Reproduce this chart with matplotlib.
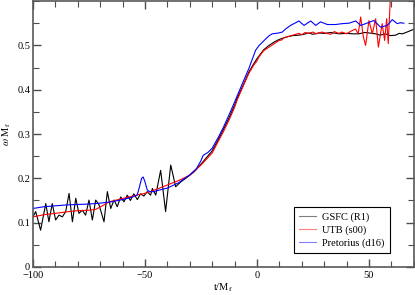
import matplotlib
matplotlib.use("Agg")
import matplotlib.pyplot as plt
from matplotlib.ticker import MultipleLocator

plt.rcParams["font.family"] = ["Liberation Serif", "DejaVu Serif"]
plt.rcParams["mathtext.fontset"] = "stix"

# GSFC (R1)
gsfc_t = [-100, -98.8, -96.6, -94.3, -92.9, -91.4, -89.9, -88.4, -86.9, -85.4,
          -83.9, -82.4, -80.9, -79.5, -78, -76.5, -75, -73.5, -72, -70.5,
          -68.3, -66.8, -65.3, -63.8, -62.4, -60.8, -59.4, -57.9, -56.5, -55,
          -53.4, -52, -50.5, -49, -47.5, -46.7, -45.2, -43, -40.8, -38.5,
          -36.3, -34, -31.8, -30, -28, -25, -22, -20, -17, -15,
          -12.5, -10, -8.9, -6, -3.6, -1.5, 0, 1.5, 3, 5.4,
          7.5, 9.8, 12, 14, 16, 18.75, 21, 23, 25, 27.7,
          30, 33, 36.6, 40, 43, 45.5, 48, 50, 53, 55,
          57.4, 59.5, 61.9, 63.5, 64.9, 67, 69.4, 70]
gsfc_w = [0.113, 0.125, 0.083, 0.143, 0.102, 0.143, 0.106, 0.117, 0.113, 0.125,
          0.166, 0.102, 0.155, 0.121, 0.128, 0.117, 0.151, 0.106, 0.151, 0.140,
          0.102, 0.170, 0.132, 0.151, 0.136, 0.158, 0.147, 0.162, 0.150, 0.165,
          0.152, 0.165, 0.160, 0.170, 0.162, 0.177, 0.162, 0.218, 0.125, 0.230,
          0.181, 0.192, 0.200, 0.207, 0.215, 0.232, 0.250, 0.262, 0.290, 0.310,
          0.336, 0.365, 0.380, 0.412, 0.440, 0.458, 0.470, 0.480, 0.490, 0.500,
          0.507, 0.513, 0.517, 0.520, 0.522, 0.523, 0.525, 0.528, 0.525, 0.528,
          0.527, 0.529, 0.526, 0.527, 0.526, 0.526, 0.529, 0.528, 0.526, 0.523,
          0.526, 0.522, 0.523, 0.527, 0.526, 0.530, 0.535, 0.536]

# UTB (s00)
utb_t = [-100, -95, -90, -84, -80, -75, -72, -69, -66, -62,
         -57, -53, -50, -45, -40, -35, -30, -25, -20, -17,
         -15, -12.5, -10, -8.9, -6, -3.6, -1.5, 0, 0.9, 3,
         5.4, 7.5, 9.8, 11, 12, 14, 16, 18.75, 20, 21.5,
         23, 25, 26.5, 27.7, 29, 31, 33, 34.5, 36.6, 38,
         40, 42, 44, 45.2, 46.3, 47.5, 48.5, 50, 51.5, 53,
         54.2, 55.9, 57, 57.9, 58.6, 59.5]
utb_w = [0.113, 0.118, 0.121, 0.125, 0.127, 0.128, 0.130, 0.138, 0.147, 0.152,
         0.158, 0.163, 0.166, 0.175, 0.185, 0.195, 0.207, 0.230, 0.257, 0.286,
         0.305, 0.331, 0.360, 0.376, 0.410, 0.437, 0.455, 0.465, 0.474, 0.488,
         0.496, 0.503, 0.511, 0.512, 0.517, 0.520, 0.523, 0.527, 0.524, 0.529,
         0.527, 0.530, 0.526, 0.528, 0.530, 0.527, 0.525, 0.531, 0.527, 0.530,
         0.526, 0.532, 0.537, 0.526, 0.564, 0.519, 0.500, 0.556, 0.526, 0.560,
         0.496, 0.549, 0.511, 0.560, 0.504, 0.601]

# Pretorius (d16)
pret_t = [-100, -95, -90, -85, -80, -75, -70, -65, -60, -56,
          -53.5, -52.5, -51.5, -50.8, -50, -49, -48, -46, -44, -40,
          -35, -30, -27, -25, -24, -22, -20, -17, -15, -12.5,
          -10, -6, -3.6, -2, -0.6, 1, 2.4, 4, 5.5, 6.8,
          9.8, 11.3, 12.8, 15, 18.75, 21, 24, 26.2, 28.4, 31.4,
          35.1, 38.1, 41.1, 44.1, 46.3, 48.5, 52.2, 55.2, 58.2, 60.4,
          62.6, 64, 65.6]
pret_w = [0.132, 0.136, 0.138, 0.140, 0.141, 0.142, 0.144, 0.147, 0.152, 0.157,
          0.162, 0.180, 0.200, 0.203, 0.192, 0.174, 0.170, 0.170, 0.173, 0.178,
          0.190, 0.208, 0.222, 0.240, 0.252, 0.258, 0.268, 0.295, 0.315, 0.343,
          0.372, 0.420, 0.448, 0.470, 0.489, 0.500, 0.507, 0.515, 0.522, 0.526,
          0.528, 0.530, 0.537, 0.545, 0.555, 0.545, 0.555, 0.545, 0.553, 0.547,
          0.547, 0.549, 0.550, 0.555, 0.545, 0.549, 0.556, 0.541, 0.545, 0.558,
          0.549, 0.551, 0.550]

fig = plt.figure(figsize=(4.15, 2.95), dpi=100)
ax = fig.add_axes([0.0795, 0.095, 0.9175, 0.9015])

ax.plot(gsfc_t, gsfc_w, color="black", lw=0.8, label="GSFC (R1)")
ax.plot(utb_t, utb_w, color="red", lw=0.8, label="UTB (s00)")
ax.plot(pret_t, pret_w, color="blue", lw=0.8, label="Pretorius (d16)")

ax.set_xlim(-100, 70)
ax.set_ylim(0, 0.6)
ax.xaxis.set_major_locator(MultipleLocator(50))
ax.xaxis.set_minor_locator(MultipleLocator(10))
ax.yaxis.set_minor_locator(MultipleLocator(0.05))
ax.set_yticks([0, 0.1, 0.2, 0.3, 0.4, 0.5])
ax.set_yticklabels(["0", "0.1", "0.2", "0.3", "0.4", "0.5"])
ax.tick_params(which="both", direction="in", top=True, right=True,
               labelsize=7.5, color="0.3", pad=2)
ax.tick_params(axis="x", which="major", pad=3)
ax.tick_params(which="major", length=6, width=1)
ax.tick_params(which="minor", length=4, width=0.8)
for s in ax.spines.values():
    s.set_color("0.35")
    s.set_linewidth(1.2)

ax.set_xlabel(r"t/M$_\mathrm{f}$", fontsize=7.5, labelpad=1)
ax.set_ylabel(r"$\omega$ M$_\mathrm{f}$", fontsize=7.5, labelpad=3)

leg = ax.legend(loc="lower right", bbox_to_anchor=(0.95, 0.034), fontsize=7.5,
                fancybox=False, framealpha=1, edgecolor="black",
                handlelength=1.6, handletextpad=0.6, borderpad=0.5,
                labelspacing=0.3)
leg.get_frame().set_linewidth(0.8)
for line in leg.get_lines():
    line.set_alpha(0.5)

fig.savefig("out.png", dpi=100)
